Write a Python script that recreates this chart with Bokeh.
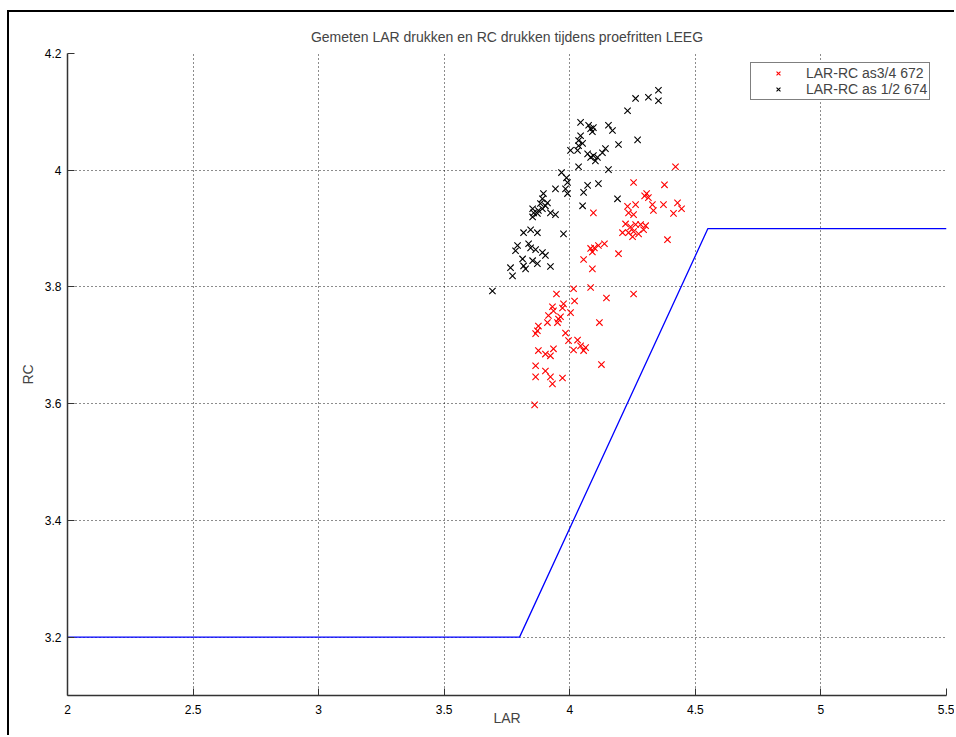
from bokeh.plotting import figure
from bokeh.models import Range1d, FixedTicker, Legend, LegendItem
from bokeh.embed import file_html
from bokeh.resources import INLINE

# ---- data ----
title_text = "Gemeten LAR drukken en RC drukken tijdens proefritten LEEG"
x_ticks = [2.0, 2.5, 3.0, 3.5, 4.0, 4.5, 5.0, 5.5]
x_tick_labels = ["2", "2.5", "3", "3.5", "4", "4.5", "5", "5.5"]
y_ticks = [3.2, 3.4, 3.6, 3.8, 4.0, 4.2]
y_tick_labels = ["3.2", "3.4", "3.6", "3.8", "4", "4.2"]

red_lar = [4.421, 4.254, 4.377, 4.306, 4.313, 4.298, 4.230, 4.262, 4.234, 4.254,
           4.329, 4.333, 4.373, 4.429, 4.445, 4.413, 4.094, 4.222, 4.242, 4.262,
           4.282, 4.302, 4.210, 4.234, 4.254, 4.274, 4.294, 4.250, 4.389, 4.083,
           4.098, 4.114, 4.138, 4.090, 4.194, 4.055, 4.090, 3.947, 4.015, 4.083,
           4.146, 4.254, 4.019, 3.975, 3.971, 3.931, 3.935, 4.003, 3.955, 3.963,
           3.915, 3.911, 3.951, 3.875, 3.871, 3.864, 4.118, 3.983, 3.995, 4.031,
           4.043, 4.063, 4.015, 4.055, 3.875, 3.903, 3.923, 3.935, 3.864, 3.903,
           3.864, 3.923, 3.931, 3.971, 4.126, 3.860]
red_rc = [4.006, 3.979, 3.975, 3.960, 3.953, 3.956, 3.938, 3.941, 3.927, 3.924,
          3.941, 3.931, 3.941, 3.944, 3.934, 3.926, 3.927, 3.908, 3.903, 3.907,
          3.907, 3.905, 3.893, 3.893, 3.895, 3.891, 3.898, 3.886, 3.881, 3.866,
          3.867, 3.871, 3.874, 3.860, 3.857, 3.847, 3.831, 3.788, 3.797, 3.799,
          3.781, 3.788, 3.776, 3.771, 3.764, 3.766, 3.759, 3.756, 3.745, 3.749,
          3.751, 3.739, 3.739, 3.733, 3.725, 3.720, 3.739, 3.721, 3.708, 3.709,
          3.699, 3.696, 3.692, 3.691, 3.691, 3.685, 3.682, 3.694, 3.665, 3.656,
          3.646, 3.646, 3.634, 3.644, 3.667, 3.598]

black_lar = [4.353, 4.353, 4.313, 4.262, 4.230, 4.043, 4.075, 4.083, 4.094, 4.090,
             4.154, 4.170, 4.043, 4.035, 4.035, 4.051, 4.003, 4.031, 4.071, 4.083,
             4.094, 4.102, 4.130, 4.142, 4.110, 4.194, 4.270, 4.035, 4.154, 3.967,
             3.987, 3.991, 3.983, 3.991, 3.943, 4.055, 4.071, 4.114, 4.190, 4.051,
             3.895, 3.891, 3.883, 3.903, 3.891, 3.911, 3.875, 3.852, 3.856, 3.852,
             3.871, 3.923, 3.943, 3.975, 3.816, 3.844, 3.871, 3.792, 3.784, 3.836,
             3.844, 3.864, 3.891, 3.903, 3.812, 3.816, 3.824, 3.852, 3.871, 3.923,
             3.764, 3.772, 3.692]
black_rc = [4.119, 4.137, 4.125, 4.123, 4.102, 4.082, 4.077, 4.071, 4.073, 4.066,
            4.077, 4.068, 4.059, 4.051, 4.042, 4.046, 4.034, 4.034, 4.028, 4.022,
            4.025, 4.016, 4.030, 4.037, 4.022, 4.044, 4.052, 4.006, 4.001, 3.996,
            3.987, 3.979, 3.968, 3.960, 3.968, 3.962, 3.974, 3.977, 3.951, 3.939,
            3.960, 3.951, 3.943, 3.939, 3.934, 3.944, 3.931, 3.934, 3.927, 3.920,
            3.926, 3.927, 3.924, 3.891, 3.893, 3.898, 3.893, 3.871, 3.862, 3.874,
            3.867, 3.864, 3.859, 3.854, 3.848, 3.836, 3.831, 3.845, 3.840, 3.835,
            3.833, 3.819, 3.793]

limit_lar = [2.0, 3.8, 4.55, 5.5]
limit_rc = [3.2, 3.2, 3.9, 3.9]

series_names = ["LAR-RC as3/4 672", "LAR-RC as 1/2 674"]

FONT = "Liberation Sans"

p = figure(width=947, height=725, output_backend="svg", toolbar_location=None,
           x_range=Range1d(2.0, 5.5), y_range=Range1d(3.1, 4.2),
           min_border_left=58, min_border_right=10, min_border_top=41,
           min_border_bottom=42)
p.margin = (10, 0, 0, 7)
p.styles = {"border-left": "2px solid black", "border-top": "2px solid black"}

p.title.text = title_text
p.title.align = "center"
p.title.text_font = FONT
p.title.text_font_size = "14px"
p.title.text_font_style = "normal"
p.title.standoff = 17

p.outline_line_color = None
p.background_fill_color = "white"
p.border_fill_color = "white"

for ax, ticks, labels in ((p.xaxis[0], x_ticks, x_tick_labels), (p.yaxis[0], y_ticks, y_tick_labels)):
    ax.ticker = FixedTicker(ticks=ticks)
    ax.major_label_overrides = {t: l for t, l in zip(ticks, labels)}
    ax.minor_tick_line_color = None
    ax.major_tick_in = 7
    ax.major_tick_out = 0
    ax.axis_line_color = "#333333"
    ax.axis_line_width = 1.5
    ax.major_tick_line_color = "#333333"
    ax.major_label_text_font = FONT
    ax.major_label_text_font_size = "12px"
    ax.major_label_text_color = "black"
    ax.axis_label_text_font = FONT
    ax.axis_label_text_font_size = "14px"
    ax.axis_label_text_font_style = "normal"

p.xaxis.axis_label = "LAR"
p.yaxis.axis_label = "RC"
p.xaxis.major_label_standoff = 9
p.yaxis.major_label_standoff = 6
p.xaxis.axis_label_standoff = -7
p.yaxis.axis_label_standoff = 6

for g in (p.xgrid[0], p.ygrid[0]):
    g.grid_line_color = "black"
    g.grid_line_dash = "1 3"
    g.grid_line_width = 1
    g.grid_line_alpha = 0.9

p.line(limit_lar, limit_rc, line_color="blue", line_width=1.3)
r_red = p.scatter(red_lar, red_rc, marker="x", size=9, line_color="red", line_width=1.1)
r_blk = p.scatter(black_lar, black_rc, marker="x", size=9, line_color="black", line_width=1.1)

legend = Legend(items=[LegendItem(label=series_names[0], renderers=[r_red]),
                       LegendItem(label=series_names[1], renderers=[r_blk])],
                location=(683, 595))
legend.label_text_font = FONT
legend.label_text_font_size = "14px"
legend.border_line_color = "black"
legend.border_line_width = 1
legend.background_fill_alpha = 1
legend.glyph_width = 50
legend.glyph_height = 14
legend.label_height = 14
legend.label_standoff = 3
legend.spacing = 0
legend.padding = 2
legend.margin = 0
p.add_layout(legend)

open("out.html", "w").write(file_html(p, INLINE))
